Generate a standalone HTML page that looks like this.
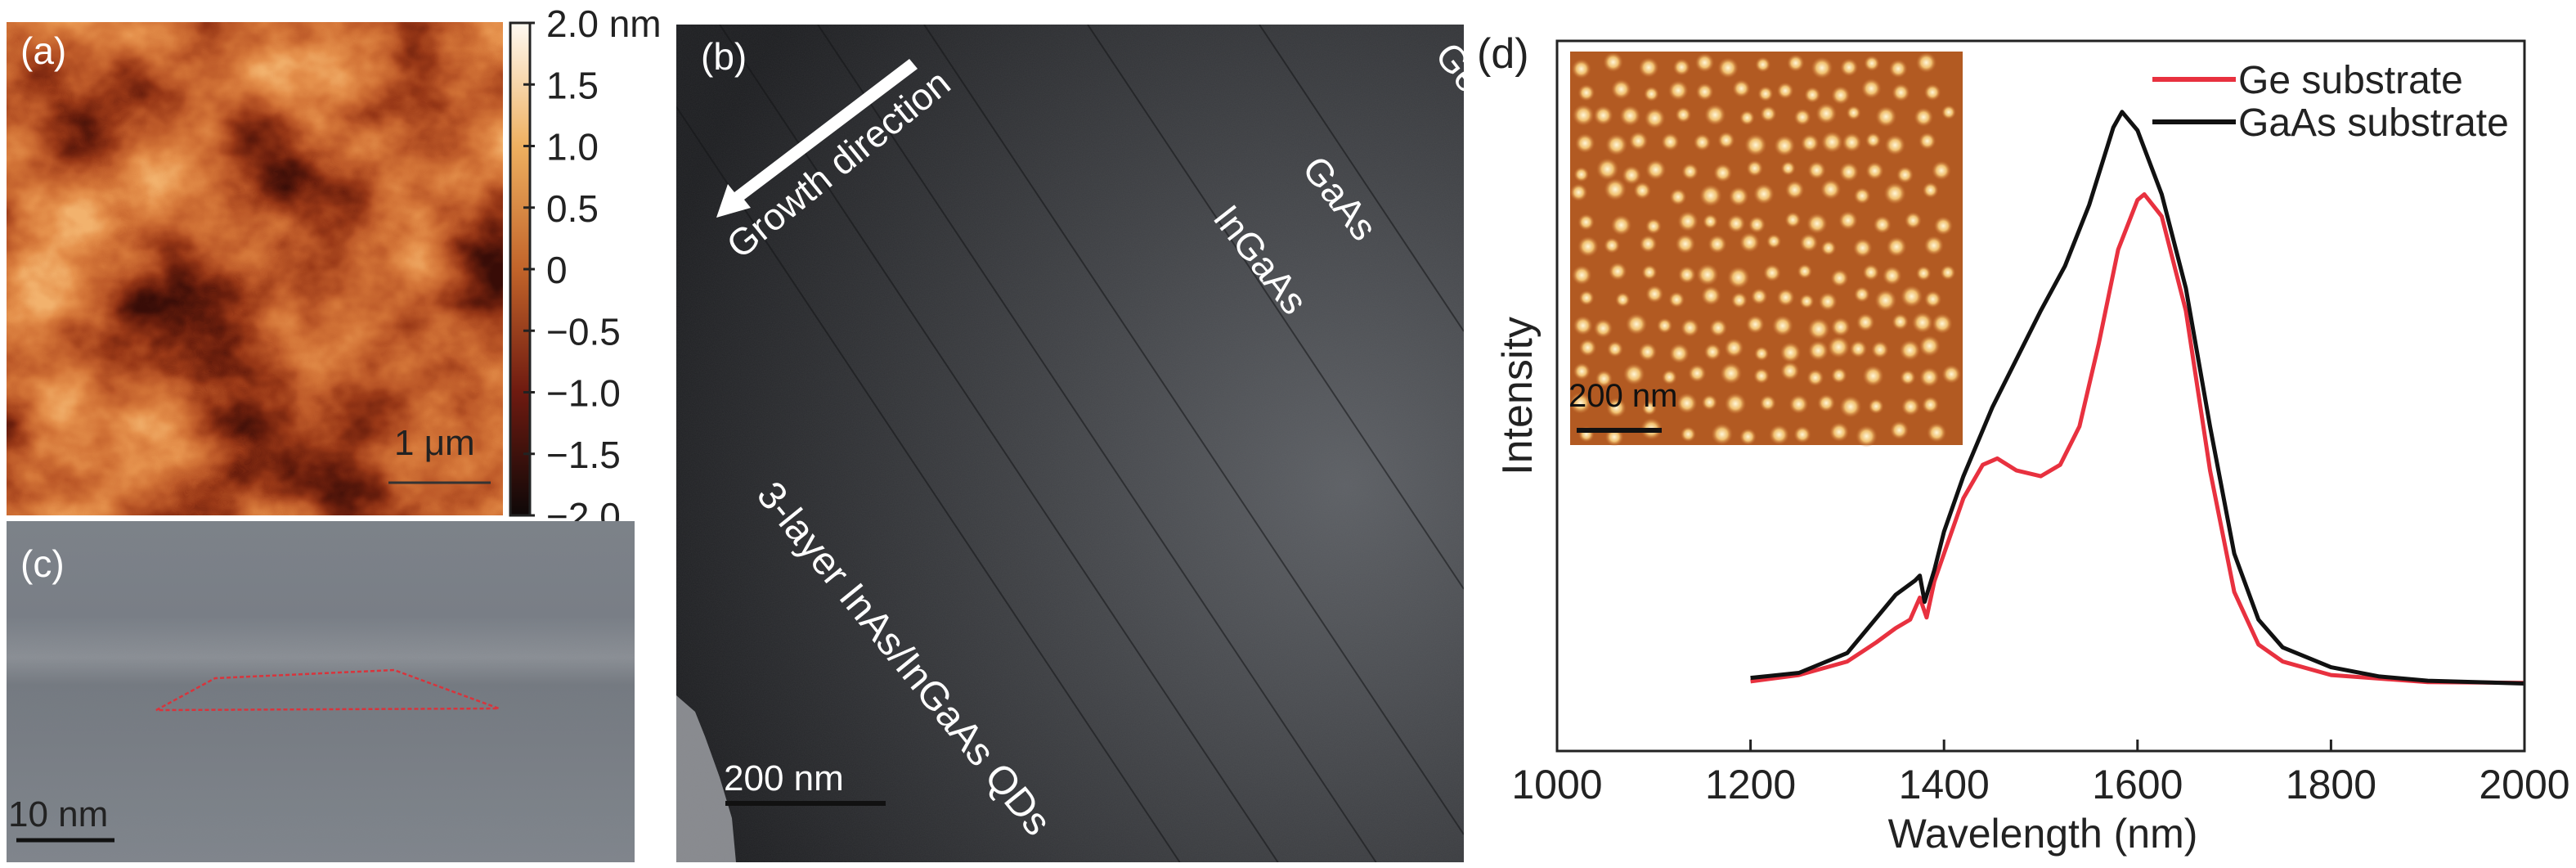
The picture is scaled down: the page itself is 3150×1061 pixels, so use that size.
<!DOCTYPE html>
<html><head><meta charset="utf-8">
<style>
html,body{margin:0;padding:0;background:#fff;width:3150px;height:1061px;overflow:hidden;}
body{position:relative;font-family:"Liberation Sans",sans-serif;}
svg{position:absolute;left:0;top:0;display:block;}
</style></head>
<body>
<svg id="fig" width="3150" height="1061" viewBox="0 0 3150 1061" xmlns="http://www.w3.org/2000/svg">
<defs>
  <filter id="afm" x="0" y="0" width="100%" height="100%" color-interpolation-filters="sRGB">
    <feTurbulence type="fractalNoise" baseFrequency="0.0055 0.0065" numOctaves="5" seed="7"/>
    <feColorMatrix type="matrix" values="1 0 0 0 0  1 0 0 0 0  1 0 0 0 0  0 0 0 0 1"/>
    <feComponentTransfer>
      <feFuncR type="linear" slope="1.9" intercept="-0.45"/>
      <feFuncG type="linear" slope="1.9" intercept="-0.45"/>
      <feFuncB type="linear" slope="1.9" intercept="-0.45"/>
    </feComponentTransfer>
    <feComponentTransfer>
      <feFuncR type="table" tableValues="0.22 0.42 0.6 0.74 0.83 0.9 0.95"/>
      <feFuncG type="table" tableValues="0.05 0.12 0.22 0.35 0.46 0.57 0.7"/>
      <feFuncB type="table" tableValues="0.03 0.05 0.09 0.16 0.22 0.3 0.43"/>
    </feComponentTransfer>
  </filter>
  <filter id="grain" x="0" y="0" width="100%" height="100%" color-interpolation-filters="sRGB">
    <feTurbulence type="fractalNoise" baseFrequency="0.9" numOctaves="1" seed="3"/>
    <feColorMatrix type="matrix" values="0 0 0 0 0.5  0 0 0 0 0.5  0 0 0 0 0.5  0 0 0 0.25 0"/>
  </filter>
  <linearGradient id="cbar" x1="0" y1="0" x2="0" y2="1">
    <stop offset="0" stop-color="#fffaf2"/>
    <stop offset="0.25" stop-color="#eeb060"/>
    <stop offset="0.5" stop-color="#c2642a"/>
    <stop offset="0.75" stop-color="#6e1a10"/>
    <stop offset="1" stop-color="#0e0808"/>
  </linearGradient>
  <radialGradient id="tembg" cx="0.85" cy="0.55" r="0.9">
    <stop offset="0" stop-color="#5e6166"/>
    <stop offset="0.45" stop-color="#404246"/>
    <stop offset="1" stop-color="#1d1e21"/>
  </radialGradient>
  <linearGradient id="cband" x1="0" y1="0" x2="0" y2="1">
    <stop offset="0" stop-color="#7c828a"/>
    <stop offset="0.28" stop-color="#787e87"/>
    <stop offset="0.4" stop-color="#8c9198"/>
    <stop offset="0.48" stop-color="#737981"/>
    <stop offset="1" stop-color="#80868e"/>
  </linearGradient>
  <radialGradient id="dot">
    <stop offset="0" stop-color="#fff6d8"/>
    <stop offset="0.5" stop-color="#f0c070"/>
    <stop offset="1" stop-color="#c2682a" stop-opacity="0"/>
  </radialGradient>
  <clipPath id="clipB"><rect x="827" y="30" width="963" height="1024"/></clipPath>
</defs>

<g>
  <rect x="8" y="27" width="607" height="603" fill="#c46a30" filter="url(#afm)"/>
  <text x="25" y="78" font-size="46" fill="#fff">(a)</text>
  <text x="482" y="556" font-size="44" fill="#222">1 μm</text>
  <line x1="475" y1="590" x2="600" y2="590" stroke="#333" stroke-width="3"/>
</g>
<g>
  <rect x="624" y="28" width="24" height="602" fill="url(#cbar)" stroke="#222" stroke-width="3"/>
  <g id="cbticks" font-size="46" fill="#222"></g>
</g>

<g>
  <rect x="8" y="637" width="768" height="417" fill="url(#cband)"/>
  <rect x="8" y="637" width="768" height="417" filter="url(#grain)"/>
  <polygon points="191,868 263,829 482,819 610,866" fill="none" stroke="#d8343c" stroke-width="2.5" stroke-dasharray="5,3"/>
  <text x="25" y="705" font-size="46" fill="#fff">(c)</text>
  <text x="10" y="1010" font-size="44" fill="#222">10 nm</text>
  <line x1="20" y1="1027" x2="140" y2="1027" stroke="#111" stroke-width="5"/>
</g>

<g clip-path="url(#clipB)">
  <rect x="827" y="30" width="963" height="1024" fill="url(#tembg)"/>
  <polygon points="827,850 850,870 862,900 880,950 895,1000 900,1054 827,1054" fill="#8a8c91"/>
  <rect x="827" y="30" width="963" height="1024" filter="url(#grain)" opacity="0.6"/>
  <g id="layerlines" stroke="#141517" stroke-width="2" opacity="0.55"></g>
  <polygon points="1122,84 1112,72 898,235 890,225 876,266 918,254 910,244" fill="#fff"/>
  <text x="0" y="0" font-size="46" fill="#fff" transform="translate(905,318) rotate(-39)">Growth direction</text>
  <text x="0" y="0" font-size="46" fill="#fff" text-anchor="middle" transform="translate(1626,252) rotate(52)">GaAs</text>
  <text x="0" y="0" font-size="46" fill="#fff" text-anchor="middle" transform="translate(1529,327) rotate(52)">InGaAs</text>
  <text x="0" y="0" font-size="46" fill="#fff" text-anchor="middle" transform="translate(1772,92) rotate(52)">Ge</text>
  <text x="0" y="0" font-size="48" fill="#fff" text-anchor="middle" transform="translate(1093,815) rotate(51)">3-layer InAs/InGaAs QDs</text>
  <text x="857" y="85" font-size="46" fill="#fff">(b)</text>
  <text x="885" y="966" font-size="44" fill="#fff">200 nm</text>
  <line x1="887" y1="982" x2="1083" y2="982" stroke="#111" stroke-width="6"/>
</g>

<g id="chart">
  <text x="1806" y="83" font-size="52" fill="#222">(d)</text>
  <g>
    <rect x="1920" y="63" width="480" height="481" fill="#b25a22"/>
    <g id="insetDots"></g>
    <text x="1918" y="497" font-size="40" fill="#111">200 nm</text>
    <line x1="1928" y1="526" x2="2032" y2="526" stroke="#111" stroke-width="6"/>
  </g>
  <g id="series"></g>
  <rect x="1904" y="50" width="1183" height="868" fill="none" stroke="#222" stroke-width="3"/>
  <g id="xticks"></g>
  <text x="2498" y="1036" font-size="50" fill="#222" text-anchor="middle">Wavelength (nm)</text>
  <text x="0" y="0" font-size="52" fill="#222" text-anchor="middle" transform="translate(1873,484) rotate(-90)">Intensity</text>
  <g>
    <line x1="2632" y1="97" x2="2734" y2="97" stroke="#e8313f" stroke-width="6"/>
    <text x="2737" y="114" font-size="48" fill="#222">Ge substrate</text>
    <line x1="2632" y1="149" x2="2734" y2="149" stroke="#111" stroke-width="6"/>
    <text x="2737" y="166" font-size="48" fill="#222">GaAs substrate</text>
  </g>
</g>
</svg>
<script>
const xTickLabels = [1000, 1200, 1400, 1600, 1800, 2000];
const cbLabels = ["2.0 nm", "1.5", "1.0", "0.5", "0", "\u22120.5", "\u22121.0", "\u22121.5", "\u22122.0"];
const geWl = [1200,1250,1300,1330,1350,1365,1375,1382,1390,1400,1420,1440,1455,1475,1500,1520,1540,1560,1580,1600,1607,1625,1650,1675,1700,1725,1750,1800,1900,2000];
const geVal = [0.098,0.107,0.126,0.153,0.173,0.185,0.216,0.188,0.239,0.278,0.356,0.403,0.412,0.395,0.387,0.403,0.457,0.574,0.706,0.776,0.784,0.753,0.62,0.395,0.224,0.15,0.126,0.107,0.097,0.096];
const gaasWl = [1200,1250,1300,1350,1370,1375,1380,1390,1400,1420,1450,1500,1525,1550,1575,1584,1600,1625,1650,1675,1700,1725,1750,1800,1850,1900,2000];
const gaasVal = [0.103,0.11,0.138,0.22,0.24,0.247,0.21,0.255,0.309,0.387,0.484,0.62,0.683,0.769,0.878,0.9,0.874,0.784,0.652,0.457,0.278,0.185,0.146,0.118,0.105,0.099,0.095];

const NS = "http://www.w3.org/2000/svg";
const X0 = 1904, X1 = 3087, Y0 = 918, Y1 = 50;
function xScale(w){ return X0 + (w - 1000) / 1000 * (X1 - X0); }
function yScale(v){ return Y0 - v * (Y0 - Y1); }
function mk(tag, attrs){ const e = document.createElementNS(NS, tag); for (const k in attrs) e.setAttribute(k, attrs[k]); return e; }

const cb = document.getElementById('cbticks');
cbLabels.forEach((lab, i) => {
  const y = 28 + i * 75.25;
  const t = mk('line', {x1: 640, y1: y, x2: 654, y2: y, stroke: '#222', 'stroke-width': 3});
  
  
  cb.appendChild(t);
  const tx = mk('text', {x: 668, y: Math.min(y + 17, 1050)});
  tx.textContent = lab;
  
  
  cb.appendChild(tx);
});

const ll = document.getElementById('layerlines');
const BX0 = 827, BX1 = 1790, BY0 = 30, BY1 = 1054, SL = 1.5;
[760, 880, 1000, 1130, 1330, 1540].forEach(xt => {
  let xa = xt, ya = BY0;
  if (xa < BX0) { ya = BY0 + (BX0 - xa) * SL; xa = BX0; }
  let xb = xt + (BY1 - BY0) / SL, yb = BY1;
  if (xb > BX1) { yb = BY0 + (BX1 - xt) * SL; xb = BX1; }
  const l = mk('line', {x1: xa, y1: ya, x2: xb, y2: yb});
  
  
  ll.appendChild(l);
});

const dots = document.getElementById('insetDots');
let s = 12345;
function rnd(){ s = (s * 1103515245 + 12345) % 2147483648; return s / 2147483648; }
for (let r = 0; r < 15; r++) {
  const y = 78 + r * 32 + (rnd() - 0.5) * 8;
  let x = 1930 + rnd() * 12;
  while (x < 2388) {
    const rad = 9 + rnd() * 5;
    const c = mk('circle', {cx: x, cy: y + (rnd() - 0.5) * 10, r: rad, fill: 'url(#dot)'});
    
    
    dots.appendChild(c);
    x += 24 + rnd() * 22;
  }
}

const xt = document.getElementById('xticks');
xTickLabels.forEach(v => {
  const x = xScale(v);
  const tk = mk('line', {x1: x, y1: Y0, x2: x, y2: Y0 - 14, stroke: '#222', 'stroke-width': 3});
  
  
  xt.appendChild(tk);
  const lb = mk('text', {x: x, y: 976, 'font-size': 50, fill: '#222', 'text-anchor': 'middle'});
  lb.textContent = v;
  
  
  xt.appendChild(lb);
});

function path(wl, val){ return wl.map((w, i) => (i ? 'L' : 'M') + xScale(w).toFixed(1) + ',' + yScale(val[i]).toFixed(1)).join(' '); }
const sg = document.getElementById('series');
const pr = mk('path', {d: path(geWl, geVal), fill: 'none', stroke: '#e8313f', 'stroke-width': 5, 'stroke-linejoin': 'round'});


sg.appendChild(pr);
const pb = mk('path', {d: path(gaasWl, gaasVal), fill: 'none', stroke: '#111', 'stroke-width': 5, 'stroke-linejoin': 'round'});


sg.appendChild(pb);
</script>
</body></html>
